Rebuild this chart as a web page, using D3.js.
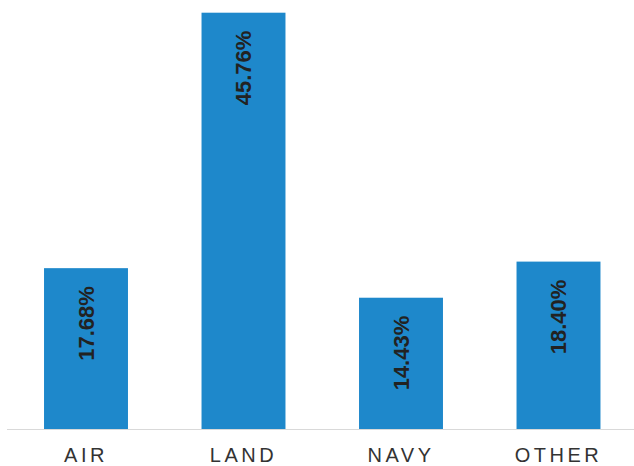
<!DOCTYPE html>
<html>
<head>
<meta charset="utf-8">
<script src="https://cdn.jsdelivr.net/npm/d3@7"></script>
<style>
  body { margin: 0; background: #fff; }
  svg { display: block; }
</style>
</head>
<body>
<div id="chart"></div>
<script>
const categories = ["AIR", "LAND", "NAVY", "OTHER"];
const shares = [17.68, 45.76, 14.43, 18.40];
const shareLabels = ["17.68%", "45.76%", "14.43%", "18.40%"];

const width = 634;
const height = 466;
const baseline = 429;

const svg = d3.select("#chart")
  .append("svg")
  .attr("width", width)
  .attr("height", height);

const x = d3.scaleBand()
  .domain(categories)
  .range([7.25, 637.25])
  .paddingInner(0.467)
  .paddingOuter(0.2335);

const y = d3.scaleLinear()
  .domain([0, 45.76])
  .range([baseline, 12.7]);

const data = categories.map((c, i) => ({ cat: c, value: shares[i], label: shareLabels[i] }));

svg.append("g")
  .selectAll("rect")
  .data(data)
  .enter()
  .append("rect")
  .attr("x", d => x(d.cat))
  .attr("y", d => y(d.value))
  .attr("width", x.bandwidth())
  .attr("height", d => baseline - y(d.value))
  .attr("fill", "#1e88cb");

svg.append("line")
  .attr("x1", 7)
  .attr("x2", width)
  .attr("y1", baseline + 0.5)
  .attr("y2", baseline + 0.5)
  .attr("stroke", "#d9d9d9")
  .attr("stroke-width", 1);

// value labels, rotated, near the top of each bar
svg.append("g")
  .selectAll("text")
  .data(data)
  .enter()
  .append("text")
  .attr("transform", d => `translate(${x(d.cat) + x.bandwidth() / 2}, ${y(d.value) + 18}) rotate(-90)`)
  .attr("text-anchor", "end")
  .attr("dy", "0.35em")
  .attr("font-family", "Liberation Sans, Arial, sans-serif")
  .attr("font-weight", "bold")
  .attr("font-size", 22)
  .attr("fill", "#222")
  .text(d => d.label);

svg.append("g")
  .selectAll("text")
  .data(data)
  .enter()
  .append("text")
  .attr("x", d => x(d.cat) + x.bandwidth() / 2)
  .attr("y", 462)
  .attr("text-anchor", "middle")
  .attr("font-family", "Liberation Sans, Arial, sans-serif")
  .attr("font-size", 20)
  .attr("letter-spacing", 3.5)
  .attr("fill", "#333")
  .text(d => d.cat);
</script>
</body>
</html>
